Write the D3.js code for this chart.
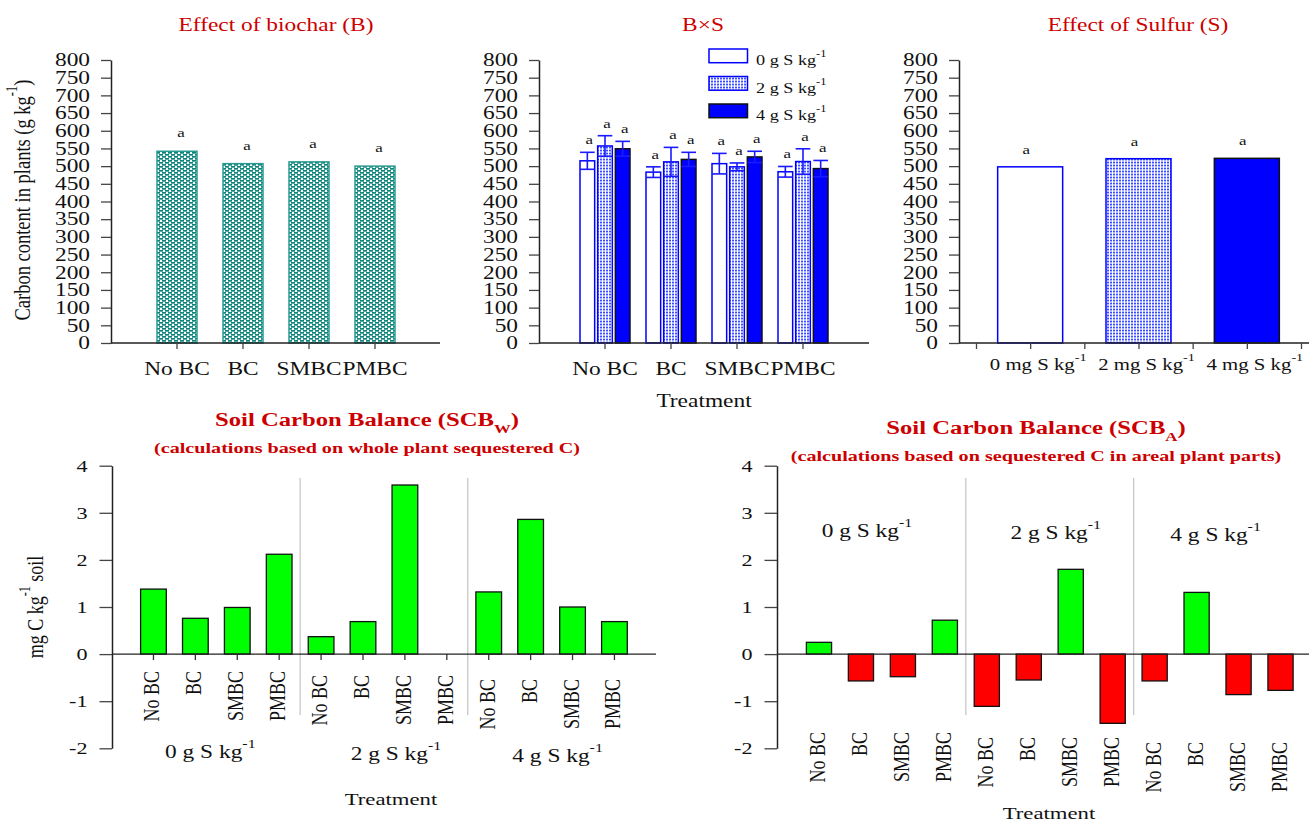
<!DOCTYPE html>
<html>
<head>
<meta charset="utf-8">
<script src="https://cdn.jsdelivr.net/npm/d3@7"></script>
<style>
  body { margin: 0; background: #fff; }
</style>
</head>
<body>
<script>
// ---- data ----
const biochar = ["No BC", "BC", "SMBC", "PMBC"];
const sulfurLevels = ["0", "2", "4"];

// carbon content in plants (g kg-1)
const carbonByBiochar = [542, 507, 512, 500];
const lettersBiochar = ["a", "a", "a", "a"];
const carbonBySulfur = [498, 521, 522];
const lettersSulfur = ["a", "a", "a"];

// B x S interaction, one array per sulfur level, in biochar order
const carbonS0 = [515, 483, 507, 484];
const carbonS2 = [557, 512, 498, 513];
const carbonS4 = [549, 519, 526, 493];
const seS0 = [24, 15, 29, 15];
const seS2 = [29, 41, 11, 36];
const seS4 = [21, 20, 16, 23];
const lettersBxS = ["a", "a", "a"];

// soil carbon balance (mg C kg-1 soil), 0 / 2 / 4 g S kg-1 x biochar
const scbWhole = [1.38, 0.76, 0.99, 2.12, 0.37, 0.69, 3.59, 0, 1.32, 2.86, 1.00, 0.69];
const scbAerial = [0.25, -0.57, -0.48, 0.72, -1.11, -0.55, 1.80, -1.47, -0.57, 1.31, -0.86, -0.77];

const yTicksTop = d3.range(0, 801, 50);
const yTicksBottom = d3.range(-2, 5, 1);

// ---- setup ----
const K = 1.3; // the figure's text is stretched horizontally
const FONT = '"Liberation Serif","Times New Roman",serif';
const RED = "#cc0000";

const svg = d3.select("body").append("svg")
  .attr("width", 1309).attr("height", 823)
  .style("font-family", FONT);

svg.append("rect").attr("width", 1309).attr("height", 823).attr("fill", "#fff");

const defs = svg.append("defs");
const teal = defs.append("pattern").attr("id", "teal")
  .attr("patternUnits", "userSpaceOnUse").attr("width", 6).attr("height", 4);
teal.append("rect").attr("width", 6).attr("height", 4).attr("fill", "#fff");
[[0, 0], [3, 2], [-3, 2]].forEach(([x, y]) =>
  teal.append("rect").attr("x", x).attr("y", y).attr("width", 4).attr("height", 1.7).attr("fill", "#0c857b"));

const dots = defs.append("pattern").attr("id", "dots")
  .attr("patternUnits", "userSpaceOnUse").attr("width", 3).attr("height", 3);
dots.append("rect").attr("width", 3).attr("height", 3).attr("fill", "#fff");
dots.append("rect").attr("width", 2).attr("height", 1.5).attr("fill", "#3a4cff");
dots.append("rect").attr("y", 1.5).attr("width", 2).attr("height", 1.5).attr("fill", "#b4bcff");

// text with optional super/subscript parts, stretched like the original
function txt(g, x, y, parts, o) {
  const size = o.size || 18;
  const t = g.append("text")
    .attr("transform", `translate(${x},${y}) scale(${K},1)` + (o.rotate ? " rotate(-90)" : ""))
    .attr("text-anchor", o.anchor || "middle")
    .attr("font-size", size)
    .attr("font-weight", o.weight || "normal")
    .attr("fill", o.color || "#111");
  let shift = 0;
  (Array.isArray(parts) ? parts : [parts]).forEach(p => {
    const s = typeof p === "string" ? { t: p } : p;
    const ts = t.append("tspan").text(s.t);
    const target = s.sup ? -0.55 * size : s.sub ? 0.35 * size : 0;
    if (target !== shift) { ts.attr("dy", target - shift); shift = target; }
    if (s.sup || s.sub) ts.attr("font-size", size * 0.68);
  });
  return t;
}

function stretchText() {
  const t = d3.select(this);
  t.attr("x", (+t.attr("x") || 0) / K).attr("transform", `scale(${K},1)`);
}

function styleAxis(g, size) {
  g.attr("font-family", null).attr("font-size", null);
  g.select(".domain").attr("stroke", "#222").attr("stroke-width", 1.5);
  g.selectAll(".tick line").attr("stroke", "#444").attr("stroke-width", 1.3);
  g.selectAll(".tick text").attr("font-size", size).attr("fill", "#111").each(stretchText);
}

function hline(x1, x2, y, color, w) {
  svg.append("line").attr("x1", x1).attr("x2", x2).attr("y1", y).attr("y2", y)
    .attr("stroke", color || "#222").attr("stroke-width", w || 1.5);
}

// ---- top row: carbon content ----
const yTop = d3.scaleLinear().domain([0, 800]).range([343, 60]);

function topYAxis(x0) {
  const g = svg.append("g").attr("transform", `translate(${x0},0)`)
    .call(d3.axisLeft(yTop).tickValues(yTicksTop).tickSize(10).tickSizeOuter(0).tickPadding(11));
  styleAxis(g, 18);
}

function bottomTicks(ax, size) {
  const g = svg.append("g").attr("transform", "translate(0,343)").call(ax);
  g.select(".domain").remove();
  styleAxis(g, size);
}

// panel 1: effect of biochar
const x1 = d3.scaleBand().domain(biochar).range([144, 408]).paddingInner(0.394).paddingOuter(0.197);
svg.append("g").selectAll("rect").data(carbonByBiochar).join("rect")
  .attr("x", (d, i) => x1(biochar[i]))
  .attr("y", d => yTop(d))
  .attr("width", x1.bandwidth())
  .attr("height", d => yTop(0) - yTop(d))
  .attr("fill", "url(#teal)").attr("stroke", "#2a9a92").attr("stroke-width", 1.5);
carbonByBiochar.forEach((d, i) =>
  txt(svg, x1(biochar[i]) + x1.bandwidth() / 2 + 4, yTop(d) - 14, lettersBiochar[i], { size: 13 }));
hline(111, 440, 343);
bottomTicks(d3.axisBottom(x1).tickSize(6).tickPadding(13), 18);
topYAxis(111);
txt(svg, 276, 31, "Effect of biochar (B)", { size: 18, color: RED });
txt(svg, 30, 200, ["Carbon content in plants (g kg", { t: "-1", sup: true }, ")"], { size: 18.5, rotate: true });

// panel 2: B x S
const x2 = d3.scaleBand().domain(biochar).range([572, 836]).paddingInner(0.394).paddingOuter(0.197);
const inner = d3.scaleBand().domain(sulfurLevels).range([-26.5, 26.5]).paddingInner(0.17).paddingOuter(0.085);
const bxsMeans = [carbonS0, carbonS2, carbonS4];
const bxsSe = [seS0, seS2, seS4];
const sFill = ["#fff", "url(#dots)", "#0000ff"];
const sStroke = ["#0000ff", "#0000ff", "#111"];

sulfurLevels.forEach((s, si) => {
  const g = svg.append("g");
  const cx = i => x2(biochar[i]) + x2.bandwidth() / 2 + inner(s);
  g.selectAll("rect").data(bxsMeans[si]).join("rect")
    .attr("x", (d, i) => cx(i))
    .attr("y", d => yTop(d))
    .attr("width", inner.bandwidth())
    .attr("height", d => yTop(0) - yTop(d))
    .attr("fill", sFill[si]).attr("stroke", sStroke[si]).attr("stroke-width", 1.5);
  bxsMeans[si].forEach((d, i) => {
    const se = bxsSe[si][i];
    const xm = cx(i) + inner.bandwidth() / 2;
    const w = inner.bandwidth() / 2;
    const eb = g.append("g").attr("stroke", "#1a1aff").attr("stroke-width", 1.6);
    eb.append("line").attr("x1", xm).attr("x2", xm).attr("y1", yTop(d + se)).attr("y2", yTop(d - se));
    eb.append("line").attr("x1", xm - w).attr("x2", xm + w).attr("y1", yTop(d + se)).attr("y2", yTop(d + se));
    eb.append("line").attr("x1", xm - w).attr("x2", xm + w).attr("y1", yTop(d - se)).attr("y2", yTop(d - se));
    txt(g, xm + 2, yTop(d + se) - 8, lettersBxS[si], { size: 13 });
  });
});
hline(539, 869, 343);
bottomTicks(d3.axisBottom(x2).tickSize(6).tickPadding(13), 18);
topYAxis(539);
txt(svg, 703, 31, "B×S", { size: 18, color: RED });
txt(svg, 704, 407, "Treatment", { size: 18 });

// legend
sulfurLevels.forEach((s, si) => {
  const y0 = 49 + si * 27.5;
  svg.append("rect").attr("x", 709).attr("y", y0).attr("width", 38.5).attr("height", 13.7)
    .attr("fill", sFill[si]).attr("stroke", sStroke[si]).attr("stroke-width", 1.5);
  txt(svg, 756, y0 + 16, [s + " g S kg", { t: "-1", sup: true }], { size: 14, anchor: "start" });
});

// panel 3: effect of sulfur
const x3 = d3.scaleBand().domain(sulfurLevels).range([976, 1301]).paddingInner(0.4).paddingOuter(0.2);
svg.append("g").selectAll("rect").data(carbonBySulfur).join("rect")
  .attr("x", (d, i) => x3(sulfurLevels[i]))
  .attr("y", d => yTop(d))
  .attr("width", x3.bandwidth())
  .attr("height", d => yTop(0) - yTop(d))
  .attr("fill", (d, i) => sFill[i]).attr("stroke", (d, i) => sStroke[i]).attr("stroke-width", 1.5);
carbonBySulfur.forEach((d, i) => {
  const xm = x3(sulfurLevels[i]) + x3.bandwidth() / 2;
  txt(svg, xm - 4, yTop(d) - 13, lettersSulfur[i], { size: 13 });
  txt(svg, xm + 8, 370, [sulfurLevels[i] + " mg S kg", { t: "-1", sup: true }], { size: 16 });
});
hline(959, 1309, 343);
const halfSteps = d3.scaleLinear().domain([0, 6]).range([976, 1301]);
bottomTicks(d3.axisBottom(halfSteps).tickValues(d3.range(7)).tickSize(6).tickFormat(""), 16);
topYAxis(959);
txt(svg, 1138, 31, "Effect of Sulfur (S)", { size: 18, color: RED });

// ---- bottom row: soil carbon balance ----
const yBot = d3.scaleLinear().domain([-2, 4]).range([748.3, 465.7]);
const scbCats = sulfurLevels.flatMap(s => biochar);
const idx = d3.range(scbCats.length);

function scbPanel(o) {
  const x = d3.scaleBand().domain(idx).range(o.range).paddingInner(o.pad).paddingOuter(o.pad / 2);
  const bw = x.bandwidth();
  const g = svg.append("g");

  // group separators
  [3, 7].forEach(i => {
    const xs = (x(i) + bw + x(i + 1)) / 2;
    g.append("line").attr("x1", xs).attr("x2", xs).attr("y1", o.sepTop).attr("y2", o.sepTop + 237)
      .attr("stroke", "#c4c4c4").attr("stroke-width", 1.2);
  });

  const bars = o.values.map((v, i) => ({ v, i })).filter(d => d.v !== 0);
  g.selectAll("rect").data(bars).join("rect")
    .attr("x", d => x(d.i))
    .attr("y", d => yBot(Math.max(0, d.v)))
    .attr("width", bw)
    .attr("height", d => Math.abs(yBot(d.v) - yBot(0)))
    .attr("fill", d => d.v >= 0 ? "#00ff00" : "#ff0000")
    .attr("stroke", "#111").attr("stroke-width", 1.3);

  hline(o.axisX, o.zeroEnd, yBot(0), "#222", 1.3);
  if (o.catTicks) {
    idx.forEach(i => {
      const xm = x(i) + bw / 2;
      g.append("line").attr("x1", xm).attr("x2", xm).attr("y1", yBot(0)).attr("y2", yBot(0) + 6)
        .attr("stroke", "#333").attr("stroke-width", 1.3);
    });
  }
  scbCats.forEach((c, i) => {
    const gi = Math.floor(i / 4);
    txt(g, x(i) + bw / 2 + 6, o.catTop + gi * o.catStep, c, { size: 18, anchor: "end", rotate: true });
  });
  sulfurLevels.forEach((s, gi) => {
    const cx = (x(gi * 4) + x(gi * 4 + 3) + bw) / 2;
    txt(g, cx + o.groupDx[gi], o.groupY + gi * 2, [s + " g S kg", { t: "-1", sup: true }], { size: 18 });
  });

  const ax = svg.append("g").attr("transform", `translate(${o.axisX},0)`)
    .call(d3.axisLeft(yBot).tickValues(yTicksBottom).tickSize(12.5).tickSizeOuter(0).tickPadding(12)
      .tickFormat(d => String(d)));
  styleAxis(ax, 17);

  txt(svg, o.titleX, o.titleY, ["Soil Carbon Balance (SCB", { t: o.sub, sub: true }, ")"],
    { size: 19, weight: "bold", color: RED });
  txt(svg, o.titleX, o.titleY + 27, o.subtitle, { size: 15.5, weight: "bold", color: RED });
  txt(svg, o.titleX + o.treatDx, o.treatY, "Treatment", { size: 17.5 });
}

scbPanel({
  values: scbWhole, range: [132.5, 635.4], pad: 0.387, axisX: 112, zeroEnd: 656,
  sepTop: 478, catTicks: true, catTop: 671, catStep: 4,
  groupY: 758, groupDx: [-6, 12, 6],
  sub: "W", titleX: 367, titleY: 426,
  subtitle: "(calculations based on whole plant sequestered C)",
  treatDx: 24, treatY: 805
});
txt(svg, 43, 607, ["mg C kg", { t: "-1", sup: true }, " soil"], { size: 18, rotate: true });

scbPanel({
  values: scbAerial, range: [798, 1301.5], pad: 0.4, axisX: 777, zeroEnd: 1309,
  sepTop: 478, catTicks: false, catTop: 732, catStep: 5,
  groupY: 537, groupDx: [-15, 6, -2],
  sub: "A", titleX: 1036, titleY: 434,
  subtitle: "(calculations based on sequestered C in areal plant parts)",
  treatDx: 13, treatY: 819
});
</script>
</body>
</html>
